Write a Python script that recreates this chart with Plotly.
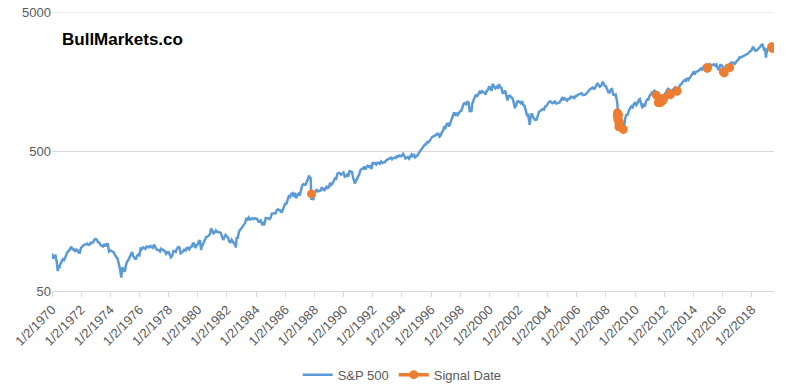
import math
import pandas as pd
import plotly.graph_objects as go

# S&P 500 month-end closes, Jan 1970 .. Jun 2019
sp500_start = ("1970-01-02", 93.0)
sp500_monthly = [
    85.0, 89.5, 89.6, 81.5, 76.6, 72.7, 78.0, 81.5, 84.3, 83.3, 87.2, 92.2,
    95.9, 96.8, 100.3, 103.9, 99.6, 99.7, 95.6, 99.0, 98.3, 94.2, 94.0, 102.1,
    103.9, 106.6, 107.2, 107.7, 109.5, 107.1, 107.4, 111.1, 110.6, 111.6, 116.7, 118.1,
    116.0, 111.7, 111.5, 107.0, 105.0, 104.3, 108.2, 104.3, 108.4, 108.3, 96.0, 97.6,
    96.6, 96.2, 94.0, 90.3, 87.3, 86.0, 79.3, 72.2, 63.5, 73.9, 70.0, 68.6,
    77.0, 81.6, 83.4, 87.3, 91.2, 95.2, 88.8, 86.9, 83.9, 89.0, 91.2, 90.2,
    100.9, 99.7, 102.8, 101.6, 100.2, 104.3, 103.4, 102.9, 105.2, 102.9, 102.1, 107.5,
    102.0, 99.8, 98.4, 98.4, 96.1, 100.5, 98.9, 96.8, 96.5, 92.3, 94.8, 95.1,
    89.3, 87.0, 89.2, 96.8, 97.2, 95.5, 100.7, 103.3, 102.5, 93.2, 94.7, 96.1,
    99.9, 96.3, 101.6, 101.8, 99.1, 102.9, 103.8, 109.3, 109.3, 101.8, 106.2, 107.9,
    114.2, 113.7, 102.1, 106.3, 111.2, 114.2, 121.7, 122.4, 125.5, 127.5, 140.5, 135.8,
    129.6, 131.3, 136.0, 132.8, 132.6, 131.2, 130.9, 122.8, 116.2, 121.9, 126.4, 122.6,
    120.4, 113.1, 112.0, 116.4, 111.9, 109.6, 107.1, 119.5, 120.4, 133.7, 138.5, 140.6,
    145.3, 148.1, 153.0, 164.4, 162.4, 168.1, 162.6, 164.4, 166.1, 163.6, 166.4, 164.9,
    163.4, 157.1, 159.2, 160.1, 150.6, 153.2, 150.7, 166.7, 166.1, 166.1, 163.6, 167.2,
    179.6, 181.2, 180.7, 179.8, 189.6, 191.9, 190.9, 188.6, 182.1, 189.8, 202.2, 211.3,
    211.8, 226.9, 238.9, 235.5, 247.4, 250.8, 236.1, 252.9, 231.3, 244.0, 249.2, 242.2,
    274.1, 284.2, 291.7, 288.4, 290.1, 304.0, 318.7, 329.8, 321.8, 251.8, 230.3, 247.1,
    257.1, 267.8, 258.9, 261.3, 262.2, 273.5, 272.0, 261.5, 271.9, 279.0, 273.7, 277.7,
    297.5, 288.9, 294.9, 309.6, 320.5, 318.0, 346.1, 351.5, 349.2, 340.4, 346.0, 353.4,
    329.1, 331.9, 339.9, 330.8, 361.2, 358.0, 356.2, 322.6, 306.1, 304.0, 322.2, 330.2,
    343.9, 367.1, 375.2, 375.4, 389.8, 371.2, 387.8, 395.4, 387.9, 392.5, 375.2, 417.1,
    408.8, 412.7, 403.7, 415.0, 415.4, 408.1, 424.2, 414.0, 417.8, 418.7, 431.4, 435.7,
    438.8, 443.4, 451.7, 440.2, 450.2, 450.5, 448.1, 463.6, 458.9, 467.8, 461.8, 466.5,
    481.6, 467.1, 445.8, 450.9, 456.5, 444.3, 458.3, 475.5, 462.7, 472.4, 453.7, 459.3,
    470.4, 487.4, 500.7, 514.7, 533.4, 544.8, 562.1, 561.9, 584.4, 581.5, 605.4, 615.9,
    636.0, 640.4, 645.5, 654.2, 669.1, 670.6, 640.0, 652.0, 687.3, 705.3, 757.0, 740.7,
    786.2, 790.8, 757.1, 801.3, 848.3, 885.1, 954.3, 899.5, 947.3, 914.6, 955.4, 970.4,
    980.3, 1049.3, 1101.8, 1111.8, 1090.8, 1133.8, 1120.7, 957.3, 1017.0, 1098.7, 1163.6, 1229.2,
    1279.6, 1238.3, 1286.4, 1335.2, 1301.8, 1372.7, 1328.7, 1320.4, 1282.7, 1362.9, 1388.9, 1469.3,
    1394.5, 1366.4, 1498.6, 1452.4, 1420.6, 1454.6, 1430.8, 1517.7, 1436.5, 1429.4, 1315.0, 1320.3,
    1366.0, 1239.9, 1160.3, 1249.5, 1255.8, 1224.4, 1211.2, 1133.6, 1040.9, 1059.8, 1139.5, 1148.1,
    1130.2, 1106.7, 1147.4, 1076.9, 1067.1, 989.8, 911.6, 916.1, 815.3, 885.8, 936.3, 879.8,
    855.7, 841.2, 848.2, 916.9, 963.6, 974.5, 990.3, 1008.0, 996.0, 1050.7, 1058.2, 1111.9,
    1131.1, 1144.9, 1126.2, 1107.3, 1120.7, 1140.8, 1101.7, 1104.2, 1114.6, 1130.2, 1173.8, 1211.9,
    1181.3, 1203.6, 1180.6, 1156.9, 1191.5, 1191.3, 1234.2, 1220.3, 1228.8, 1207.0, 1249.5, 1248.3,
    1280.1, 1280.7, 1294.9, 1310.6, 1270.1, 1270.2, 1276.7, 1303.8, 1335.9, 1377.9, 1400.6, 1418.3,
    1438.2, 1406.8, 1420.9, 1482.4, 1530.6, 1503.4, 1455.3, 1474.0, 1526.8, 1549.4, 1481.1, 1468.4,
    1378.6, 1330.6, 1322.7, 1385.6, 1400.4, 1280.0, 1267.4, 1282.8, 1166.4, 968.8, 896.2, 903.3,
    825.9, 735.1, 797.9, 872.8, 919.1, 919.3, 987.5, 1020.6, 1057.1, 1036.2, 1095.6, 1115.1,
    1073.9, 1104.5, 1169.4, 1186.7, 1089.4, 1030.7, 1101.6, 1049.3, 1141.2, 1183.3, 1180.6, 1257.6,
    1286.1, 1327.2, 1325.8, 1363.6, 1345.2, 1320.6, 1292.3, 1218.9, 1131.4, 1253.3, 1247.0, 1257.6,
    1312.4, 1365.7, 1408.5, 1397.9, 1310.3, 1362.2, 1379.3, 1406.6, 1440.7, 1412.2, 1416.2, 1426.2,
    1498.1, 1514.7, 1569.2, 1597.6, 1630.7, 1606.3, 1685.7, 1633.0, 1681.6, 1756.5, 1805.8, 1848.4,
    1782.6, 1859.5, 1872.3, 1884.0, 1923.6, 1960.2, 1930.7, 2003.4, 1972.3, 2018.1, 2067.6, 2058.9,
    1995.0, 2104.5, 2067.9, 2085.5, 2107.4, 2063.1, 2103.8, 1972.2, 1920.0, 2079.4, 2080.4, 2043.9,
    1940.2, 1932.2, 2059.7, 2065.3, 2097.0, 2098.9, 2173.6, 2171.0, 2168.3, 2126.2, 2198.8, 2238.8,
    2278.9, 2363.6, 2362.7, 2384.2, 2411.8, 2423.4, 2470.3, 2471.7, 2519.4, 2575.3, 2647.6, 2673.6,
    2823.8, 2713.8, 2640.9, 2648.1, 2705.3, 2718.4, 2816.3, 2901.5, 2914.0, 2711.7, 2760.2, 2506.9,
    2704.1, 2784.5, 2834.4, 2945.8, 2752.1, 2941.8,
]
# notable intramonth highs / lows
sp500_extreme_dates = [
    "1970-05-26", "1974-10-03", "1980-03-27", "1982-08-12", "1984-07-24",
    "1987-08-25", "1987-10-19", "1987-12-04", "1990-10-11", "1998-10-08",
    "2000-03-24", "2002-10-09", "2007-10-09", "2008-11-20", "2009-03-09",
    "2010-07-02", "2011-10-03", "2016-02-11", "2018-09-20", "2018-12-24",
]
sp500_extreme_values = [
    69.3, 62.3, 98.2, 102.4, 147.8,
    336.8, 224.8, 223.9, 295.5, 959.4,
    1527.5, 776.8, 1565.2, 752.4, 676.5,
    1022.6, 1099.2, 1829.1, 2930.8, 2351.1,
]

signal_dates = [
    "1987-10-22",
    "2008-10-10", "2008-10-16", "2008-10-27", "2008-11-13", "2008-11-20", "2008-11-21",
    "2008-12-01", "2009-03-10",
    "2011-06-16", "2011-08-08", "2011-08-10", "2011-08-19", "2011-09-22", "2011-10-04",
    "2011-11-25", "2011-12-19", "2012-05-18", "2012-06-04", "2012-11-15", "2012-11-16",
    "2014-12-12", "2014-12-16",
    "2016-01-20", "2016-02-11", "2016-06-27",
    "2019-05-13", "2019-05-31", "2019-06-03", "2019-06-04",
]
signal_values = [
    248.2,
    899.2, 946.4, 848.9, 911.3, 752.4, 800.0,
    816.2, 719.6,
    1267.6, 1119.5, 1120.8, 1123.5, 1129.6, 1123.9,
    1158.7, 1205.4, 1295.2, 1278.2, 1353.3, 1359.9,
    2002.3, 1972.7,
    1859.3, 1829.1, 2000.5,
    2811.9, 2752.1, 2744.5, 2803.3,
]

tick_years = list(range(1970, 2019, 2))
tick_labels = [f"1/2/{y}" for y in tick_years]
y_ticks = [50, 500, 5000]

# build S&P series
month_ends = pd.date_range("1970-01-31", periods=len(sp500_monthly), freq="ME")
sp = pd.Series(sp500_monthly, index=month_ends)
sp = pd.concat([sp,
                pd.Series([sp500_start[1]], index=[pd.Timestamp(sp500_start[0])]),
                pd.Series(sp500_extreme_values, index=pd.to_datetime(sp500_extreme_dates))])
sp = sp.sort_index()

# signal series with gaps between clusters
sd = pd.to_datetime(signal_dates)
sx, sy = [], []
for i, (d, v) in enumerate(zip(sd, signal_values)):
    if i > 0 and (d - sd[i - 1]).days > 40:
        sx.append(None)
        sy.append(None)
    sx.append(d)
    sy.append(v)

BLUE = "#5B9BD5"
ORANGE = "#ED7D31"
GRID = "#D9D9D9"
TXT = "#595959"
FONT = "Liberation Sans"

fig = go.Figure()
fig.add_trace(go.Scatter(x=sp.index, y=sp.values, mode="lines", name="S&P 500",
                         line=dict(color=BLUE, width=2.5)))
fig.add_trace(go.Scatter(x=sx, y=sy, mode="lines+markers", name="Signal Date",
                         connectgaps=False,
                         line=dict(color=ORANGE, width=3.5),
                         marker=dict(color=ORANGE, size=9)))

# top gridline (at the range edge)
fig.add_shape(type="line", xref="paper", x0=0, x1=1, yref="y", y0=y_ticks[-1], y1=y_ticks[-1],
              line=dict(color=GRID, width=1), layer="below")

fig.add_annotation(text="<b>BullMarkets.co</b>", xref="paper", yref="paper",
                   x=0.011, y=0.90, xanchor="left", yanchor="middle", showarrow=False,
                   font=dict(family=FONT, size=17, color="#000000"))

fig.update_layout(
    width=800, height=392,
    margin=dict(l=52, r=26, t=12, b=101, autoexpand=False),
    paper_bgcolor="white", plot_bgcolor="white",
    font=dict(family=FONT, color=TXT, size=12),
    showlegend=True,
    legend=dict(orientation="h", x=0.485, xanchor="center",
                y=-0.30, yanchor="middle",
                font=dict(size=13, color=TXT), itemwidth=30, tracegroupgap=0),
)
fig.update_xaxes(
    type="date", range=["1970-01-02", "2019-07-12"], automargin=False,
    tickvals=[pd.Timestamp(f"{y}-01-02") for y in tick_years], ticktext=tick_labels,
    tickangle=-45, showgrid=False, showline=True, linecolor=GRID, linewidth=1,
    ticks="outside", tickcolor=GRID, ticklen=5, zeroline=False,
    tickfont=dict(size=13, color=TXT),
)
fig.update_yaxes(
    type="log", range=[math.log10(y_ticks[0]) - 1e-6, math.log10(y_ticks[-1]) + 1e-6],
    tickvals=y_ticks, automargin=False, ticklabeloverflow="allow",
    ticktext=[str(v) for v in y_ticks], showgrid=True, gridcolor=GRID, gridwidth=1,
    showline=False, zeroline=False, ticks="", tickfont=dict(size=13, color=TXT),
)

fig.write_html("out.html", config={"displayModeBar": False},
               post_script="document.body.style.margin='0px';document.body.style.padding='0px';")
